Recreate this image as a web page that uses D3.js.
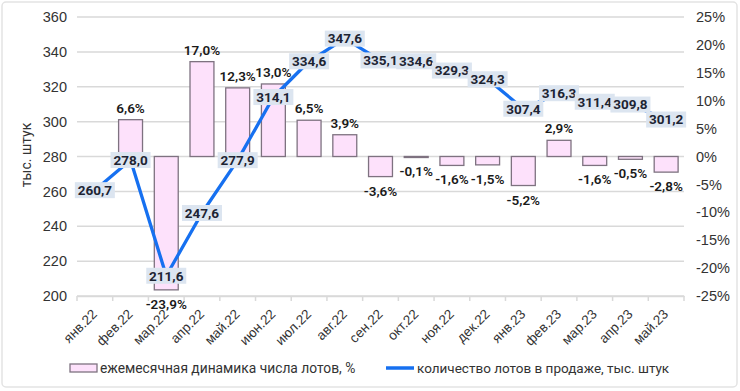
<!DOCTYPE html>
<html><head><meta charset="utf-8">
<script src="https://cdn.jsdelivr.net/npm/d3@7"></script>
<style>html,body{margin:0;padding:0;background:#fff;}svg{display:block;font-family:Roboto,"Noto Sans",sans-serif;}</style>
</head><body>
<svg id="c" width="740" height="391"></svg>
<script>
const categories = ["янв.22","фев.22","мар.22","апр.22","май.22","июн.22","июл.22","авг.22","сен.22","окт.22","ноя.22","дек.22","янв.23","фев.23","мар.23","апр.23","май.23"];
const changePct = [null,6.6,-23.9,17.0,12.3,13.0,6.5,3.9,-3.6,-0.1,-1.6,-1.5,-5.2,2.9,-1.6,-0.5,-2.8];
const lotsK = [260.7,278.0,211.6,247.6,277.9,314.1,334.6,347.6,335.1,334.6,329.3,324.3,307.4,316.3,311.4,309.8,301.2];
const leftTicks = [200,220,240,260,280,300,320,340,360];
const rightTicks = [-25,-20,-15,-10,-5,0,5,10,15,20,25];
const yTitle = "тыс. штук";
const legendBar = "ежемесячная динамика числа лотов, %";
const legendLine = "количество лотов в продаже, тыс. штук";

const svg = d3.select("#c");
const fmt = v => v.toFixed(1).replace(".", ",");
const L = 77, R = 684, T = 17, B = 296;

svg.append("rect").attr("x",2).attr("y",2).attr("width",735).attr("height",385)
  .attr("rx",4).attr("fill","#fff").attr("stroke","#e3e3e3").attr("stroke-width",1.5);

const x = d3.scaleBand().domain(categories).range([L,R]).padding(0);
const yL = d3.scaleLinear().domain([200,360]).range([B,T]);
const yR = d3.scaleLinear().domain([-25,25]).range([B,T]);
const bw = x.bandwidth()*0.67;
const cx = c => x(c) + x.bandwidth()/2;

// gridlines
svg.append("g").selectAll("line").data(leftTicks).join("line")
  .attr("x1",L).attr("x2",R).attr("y1",d=>yL(d)).attr("y2",d=>yL(d))
  .attr("stroke","#d9d9d9").attr("stroke-width",1.5);

// left axis
const gl = svg.append("g").attr("transform",`translate(${L},0)`)
  .call(d3.axisLeft(yL).tickValues(leftTicks).tickSize(0).tickPadding(10).tickFormat(d3.format("d")));
gl.select(".domain").remove();
gl.selectAll("text").attr("font-size",14.5).attr("fill","#333");

// right axis
const gr = svg.append("g").attr("transform",`translate(${R},0)`)
  .call(d3.axisRight(yR).tickValues(rightTicks).tickSize(0).tickPadding(12).tickFormat(d=>d+"%"));
gr.select(".domain").remove();
gr.selectAll("text").attr("font-size",14.5).attr("fill","#333");

// x axis
const gx = svg.append("g").attr("transform",`translate(0,${B})`)
  .call(d3.axisBottom(x).tickSize(0).tickPadding(0));
gx.select(".domain").attr("stroke","#d9d9d9").attr("stroke-width",1.5);
gx.selectAll("text").attr("font-size",13.5).attr("fill","#333")
  .attr("text-anchor","end").attr("dy",0)
  .attr("transform","translate(3,19) rotate(-45)");
const bounds = categories.map(c=>x(c)).concat([R]);
svg.append("g").selectAll("line").data(bounds).join("line")
  .attr("x1",d=>d).attr("x2",d=>d).attr("y1",B).attr("y2",B+5)
  .attr("stroke","#d9d9d9").attr("stroke-width",1.5);

// bars
const barData = categories.map((c,i)=>({c, v:changePct[i]})).filter(d=>d.v!==null);
svg.append("g").selectAll("rect").data(barData).join("rect")
  .attr("x",d=>cx(d.c)-bw/2).attr("width",bw)
  .attr("y",d=>Math.min(yR(d.v),yR(0))).attr("height",d=>Math.max(Math.abs(yR(d.v)-yR(0)),1))
  .attr("fill","#fde1fb").attr("stroke","#7e7280").attr("stroke-width",1.3);

// bar labels
svg.append("g").selectAll("text").data(barData).join("text")
  .attr("x",d=>cx(d.c)).attr("y",d=> d.v>=0 ? yR(d.v)-7 : yR(d.v)+19)
  .attr("text-anchor","middle").attr("font-size",13.5).attr("font-weight",600).attr("fill","#1a1a1a")
  .text(d=>fmt(d.v)+"%");

// line
const pts = categories.map((c,i)=>({c, v:lotsK[i]}));
svg.append("path").datum(pts)
  .attr("d", d3.line().x(d=>cx(d.c)).y(d=>yL(d.v)))
  .attr("fill","none").attr("stroke","#1670f0").attr("stroke-width",3.3).attr("stroke-linejoin","round");

// line labels
const ll = svg.append("g").selectAll("g").data(pts).join("g")
  .attr("transform",d=>`translate(${cx(d.c)},${yL(d.v)})`);
ll.append("rect").attr("x",-20).attr("y",-8).attr("width",40).attr("height",16).attr("fill","#dce5f0");
ll.append("text").attr("text-anchor","middle").attr("dy","0.36em")
  .attr("font-size",13.5).attr("font-weight",700).attr("fill","#1d2433")
  .text(d=>fmt(d.v));

// y title
svg.append("text").attr("transform","translate(31,155) rotate(-90)")
  .attr("text-anchor","middle").attr("font-size",14).attr("fill","#333").text(yTitle);

// legend
const lg = svg.append("g");
lg.append("rect").attr("x",70).attr("y",364).attr("width",27).attr("height",8)
  .attr("fill","#fde1fb").attr("stroke","#7e7280").attr("stroke-width",1.3);
lg.append("text").attr("x",100).attr("y",368).attr("dy","0.35em").attr("font-size",13.8).attr("fill","#333").text(legendBar);
lg.append("line").attr("x1",386).attr("x2",414).attr("y1",368).attr("y2",368).attr("stroke","#1670f0").attr("stroke-width",3.5);
lg.append("text").attr("x",417).attr("y",368).attr("dy","0.35em").attr("font-size",13.5).attr("fill","#333").text(legendLine);
</script>
</body></html>
